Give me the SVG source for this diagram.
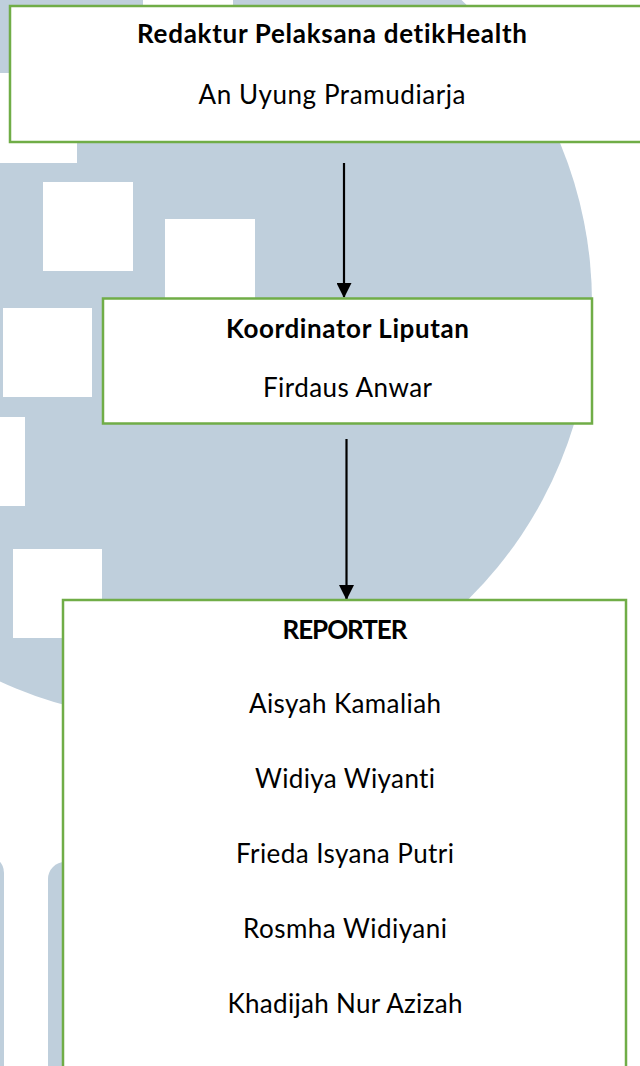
<svg xmlns="http://www.w3.org/2000/svg" width="640" height="1066" viewBox="0 0 640 1066">
<style>
.wm{fill:#bfcfdc}
.wh{fill:#ffffff}
.box{fill:#ffffff;stroke:#70ad47;stroke-width:2.5}
.t{font-family:Lato,"Open Sans","Liberation Sans",sans-serif;font-size:26px;fill:#000;text-anchor:middle;font-variant-ligatures:none;font-feature-settings:"liga" 0,"clig" 0}
.b{font-weight:bold}
.conn{stroke:#000;stroke-width:2.2;fill:none}
</style>
<defs>
<marker id="ah" markerWidth="15" markerHeight="15" refX="14" refY="7.5" orient="auto" markerUnits="userSpaceOnUse" viewBox="0 0 15 15">
<path d="M0,0 L15,7.5 L0,15 Z" fill="#000"/>
</marker>
</defs>
<rect width="640" height="1066" fill="#fff"/>
<g id="watermark">
<circle class="wm" cx="175" cy="303" r="417"/>
<rect class="wh" x="143" y="-85" width="90" height="90"/>
<rect class="wh" x="0" y="73" width="77" height="90"/>
<rect class="wh" x="43" y="182" width="90" height="89"/>
<rect class="wh" x="165" y="219" width="90" height="89"/>
<rect class="wh" x="3" y="308" width="89" height="89"/>
<rect class="wh" x="0" y="417" width="25" height="89"/>
<rect class="wh" x="13" y="549" width="89" height="89"/>
<rect class="wm" x="-40" y="855" width="44" height="260" rx="18"/>
<rect class="wm" x="48" y="862" width="60" height="260" rx="17"/>
</g>
<g id="connectors">
<line class="conn" x1="344" y1="163" x2="344" y2="297" marker-end="url(#ah)"/>
<line class="conn" x1="346.5" y1="439" x2="346.5" y2="599" marker-end="url(#ah)"/>
</g>
<g id="node-redaktur">
<rect class="box" x="10" y="6" width="644" height="136"/>
<text class="t b" x="332" y="43" textLength="390" lengthAdjust="spacing">Redaktur Pelaksana detikHealth</text>
<text class="t" x="332" y="104" textLength="267" lengthAdjust="spacing">An Uyung Pramudiarja</text>
</g>
<g id="node-koordinator">
<rect class="box" x="103" y="298.5" width="489" height="125"/>
<text class="t b" x="347.5" y="338" textLength="243" lengthAdjust="spacing">Koordinator Liputan</text>
<text class="t" x="347.5" y="397" textLength="169" lengthAdjust="spacing">Firdaus Anwar</text>
</g>
<g id="node-reporter">
<rect class="box" x="63" y="600" width="563" height="480"/>
<text class="t b" x="345" y="639" textLength="125" lengthAdjust="spacing">REPORTER</text>
<text class="t" x="345" y="713" textLength="192" lengthAdjust="spacing">Aisyah Kamaliah</text>
<text class="t" x="345" y="788" textLength="180" lengthAdjust="spacing">Widiya Wiyanti</text>
<text class="t" x="345" y="863" textLength="218" lengthAdjust="spacing">Frieda Isyana Putri</text>
<text class="t" x="345" y="938" textLength="204" lengthAdjust="spacing">Rosmha Widiyani</text>
<text class="t" x="345" y="1013" textLength="235" lengthAdjust="spacing">Khadijah Nur Azizah</text>
</g>
</svg>
